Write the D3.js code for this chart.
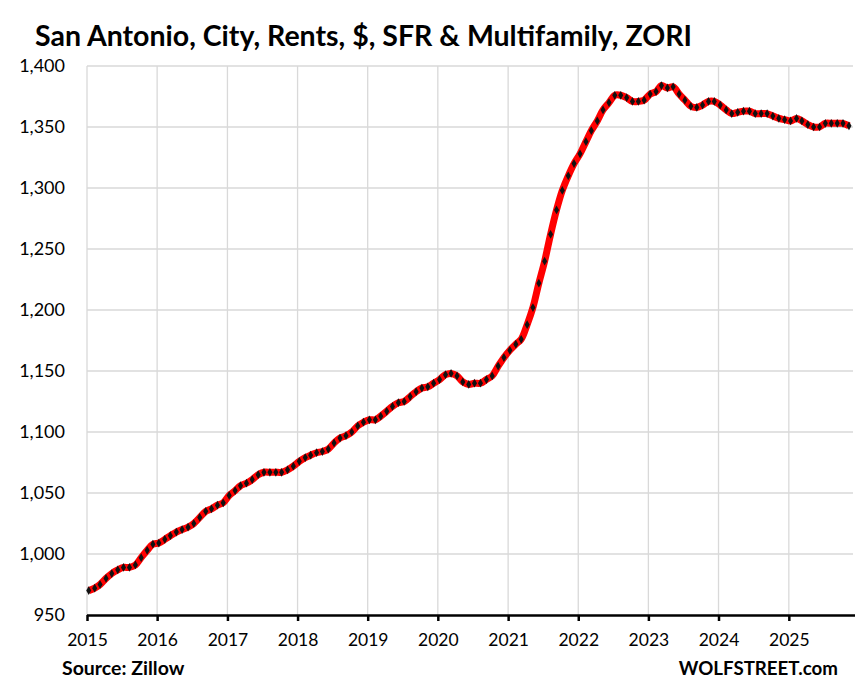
<!DOCTYPE html>
<html>
<head>
<meta charset="utf-8">
<script src="https://cdn.jsdelivr.net/npm/d3@7"></script>
<style>
  html, body { margin: 0; padding: 0; background: #fff; }
  svg { display: block; }
  text { font-family: Lato, "Open Sans", sans-serif; }
</style>
</head>
<body>
<svg id="chart" width="858" height="693"></svg>
<script>
// ---- Data (monthly, Jan 2015 – Nov 2025) ----
const rents2015 = [970, 972, 975, 980, 984, 987, 989, 989, 991, 997, 1003, 1008];
const rents2016 = [1009, 1012, 1015, 1018, 1020, 1022, 1025, 1030, 1035, 1037, 1040, 1042];
const rents2017 = [1048, 1052, 1056, 1058, 1061, 1065, 1067, 1067, 1067, 1067, 1069, 1072];
const rents2018 = [1076, 1079, 1081, 1083, 1084, 1086, 1091, 1095, 1097, 1100, 1105, 1108];
const rents2019 = [1110, 1110, 1113, 1117, 1121, 1124, 1125, 1129, 1133, 1136, 1137, 1140];
const rents2020 = [1143, 1147, 1148, 1146, 1141, 1139, 1140, 1140, 1143, 1146, 1154, 1161];
const rents2021 = [1167, 1172, 1176, 1188, 1202, 1222, 1240, 1262, 1282, 1298, 1310, 1320];
const rents2022 = [1328, 1338, 1347, 1355, 1364, 1370, 1376, 1376, 1374, 1371, 1371, 1372];
const rents2023 = [1377, 1379, 1384, 1382, 1383, 1377, 1372, 1367, 1366, 1368, 1371, 1371];
const rents2024 = [1368, 1364, 1361, 1362, 1363, 1363, 1361, 1361, 1361, 1359, 1357, 1356];
const rents2025 = [1355, 1357, 1355, 1352, 1350, 1350, 1353, 1353, 1353, 1353, 1351];

const years = [2015, 2016, 2017, 2018, 2019, 2020, 2021, 2022, 2023, 2024, 2025];
const yearSeries = [rents2015, rents2016, rents2017, rents2018, rents2019, rents2020,
                    rents2021, rents2022, rents2023, rents2024, rents2025];
const yTicks = [950, 1000, 1050, 1100, 1150, 1200, 1250, 1300, 1350, 1400];

const titleText = "San Antonio, City, Rents, $, SFR & Multifamily, ZORI";
const sourceText = "Source: Zillow";
const brandText = "WOLFSTREET.com";

// Build the table
const data = [];
yearSeries.forEach((arr, yi) => {
  arr.forEach((v, m) => data.push({ date: new Date(years[yi], m, 10), value: v }));
});

// ---- Layout ----
const svg = d3.select("#chart");
const plot = { left: 87, right: 853, top: 66, bottom: 615 };

const x = d3.scaleTime()
  .domain([new Date(2015, 0, 1), new Date(2025, 11, 1)])
  .range([plot.left, plot.right]);
const y = d3.scaleLinear()
  .domain([950, 1400])
  .range([plot.bottom, plot.top]);

const tickDates = years.map(yr => new Date(yr, 0, 1));

// Gridlines
const grid = svg.append("g");
grid.selectAll("line.h").data(yTicks.filter(t => t !== 950)).join("line")
  .attr("x1", plot.left).attr("x2", plot.right)
  .attr("y1", d => y(d)).attr("y2", d => y(d))
  .attr("stroke", "#d9d9d9").attr("stroke-width", 1.3);
grid.selectAll("line.v").data(tickDates).join("line")
  .attr("x1", d => x(d)).attr("x2", d => x(d))
  .attr("y1", plot.top).attr("y2", plot.bottom)
  .attr("stroke", "#d9d9d9").attr("stroke-width", 1.3);

// Y axis labels
const yAxis = d3.axisLeft(y).tickValues(yTicks).tickSize(0).tickPadding(22)
  .tickFormat(d3.format(","));
const yg = svg.append("g").attr("transform", `translate(${plot.left},0)`).call(yAxis);
yg.select(".domain").remove();
yg.selectAll("text").attr("font-size", 18).attr("fill", "#000")
  .style("font-family", "Lato, 'Open Sans', sans-serif");

// X axis
const xAxis = d3.axisBottom(x).tickValues(tickDates).tickSize(6).tickPadding(13)
  .tickFormat(d3.timeFormat("%Y"));
const xg = svg.append("g").attr("transform", `translate(0,${plot.bottom})`).call(xAxis);
xg.select(".domain").attr("stroke", "#000").attr("stroke-width", 2.5)
  .attr("d", `M${plot.left},0.5H${plot.right + 2}`);
xg.selectAll(".tick line").attr("stroke", "#000").attr("stroke-width", 2.5);
xg.selectAll("text").attr("font-size", 17.5).attr("fill", "#000")
  .style("font-family", "Lato, 'Open Sans', sans-serif");

// Line
const line = d3.line()
  .x(d => x(d.date)).y(d => y(d.value))
  .curve(d3.curveCatmullRom.alpha(0.5));
svg.append("path").datum(data)
  .attr("d", line)
  .attr("fill", "none")
  .attr("stroke", "#ff0000")
  .attr("stroke-width", 7)
  .attr("stroke-linejoin", "round");

// Markers
const diamond = d3.symbol().type(d3.symbolDiamond).size(22);
svg.append("g").selectAll("path").data(data).join("path")
  .attr("d", diamond)
  .attr("transform", d => `translate(${x(d.date)},${y(d.value)})`)
  .attr("fill", "#111");

// Title
svg.append("text")
  .attr("x", 35).attr("y", 46)
  .attr("font-size", 28.5).attr("font-weight", "bold")
  .attr("fill", "#000")
  .text(titleText);

// Footer
svg.append("text")
  .attr("x", 62).attr("y", 675)
  .attr("font-size", 19.5).attr("font-weight", "bold").attr("fill", "#000")
  .text(sourceText);
svg.append("text")
  .attr("x", 838).attr("y", 675).attr("text-anchor", "end")
  .attr("font-size", 18.7).attr("font-weight", "bold").attr("fill", "#000")
  .text(brandText);
</script>
</body>
</html>
